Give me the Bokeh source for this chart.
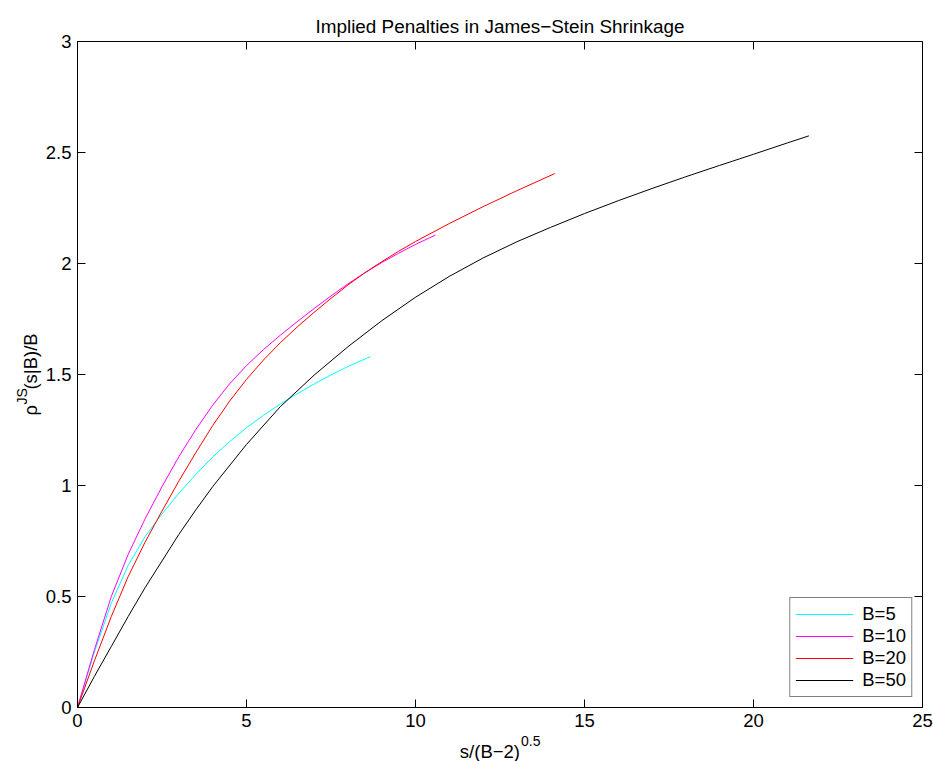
from math import pi
from bokeh.plotting import figure
from bokeh.models import (Range1d, FixedTicker, Label, Legend,
                          LegendItem, NumeralTickFormatter)
from bokeh.embed import file_html
from bokeh.resources import INLINE

# ---- data ----
b5_x = [0, 0.5, 1, 1.5, 2, 2.5, 3, 3.5, 4, 4.5, 5, 5.5, 6, 6.5, 7, 7.5, 8, 8.66]
b5_y = [0, 0.25, 0.47, 0.64, 0.77, 0.872, 0.965, 1.05, 1.128, 1.198, 1.26,
        1.316, 1.367, 1.413, 1.457, 1.498, 1.536, 1.58]

b10_x = [0, 0.5, 1, 1.5, 2, 2.5, 3, 3.5, 4, 4.5, 5, 5.5, 6, 6.5, 7, 7.5, 8,
         8.5, 9, 9.5, 10, 10.59]
b10_y = [0, 0.26, 0.50, 0.69, 0.85, 0.995, 1.13, 1.252, 1.362, 1.458, 1.54,
         1.612, 1.677, 1.738, 1.797, 1.854, 1.908, 1.958, 2.004, 2.046, 2.086,
         2.128]

b20_x = [0, 0.5, 1, 1.5, 2, 2.5, 3, 3.5, 4, 4.5, 5, 5.5, 6, 6.5, 7, 7.5, 8,
         8.5, 9, 9.5, 10, 11, 12, 13, 14.12]
b20_y = [0, 0.21, 0.41, 0.59, 0.745, 0.885, 1.02, 1.148, 1.27, 1.38, 1.478,
         1.565, 1.643, 1.714, 1.78, 1.843, 1.903, 1.958, 2.008, 2.055, 2.099,
         2.18, 2.256, 2.328, 2.405]

b50_x = [0, 0.5, 1, 1.5, 2, 2.5, 3, 3.5, 4, 5, 6, 7, 8, 9, 10, 11, 12, 13,
         14, 15, 16, 17, 18, 19, 20, 21, 21.64]
b50_y = [0, 0.14, 0.275, 0.41, 0.54, 0.66, 0.78, 0.89, 0.995, 1.185, 1.355,
         1.497, 1.625, 1.742, 1.848, 1.942, 2.025, 2.098, 2.163, 2.225, 2.283,
         2.338, 2.391, 2.442, 2.492, 2.543, 2.575]

series_names = ["B=5", "B=10", "B=20", "B=50"]
series_colors = ["#00FFFF", "#FF00FF", "#FF0000", "#000000"]

x_ticks = [0, 5, 10, 15, 20, 25]
y_ticks = [0, 0.5, 1, 1.5, 2, 2.5, 3]

title_text = "Implied Penalties in James\u2212Stein Shrinkage"
xlabel_main = "s/(B\u22122)"
xlabel_sup = "0.5"
ylabel_main = "\u03c1\u00a0\u00a0\u00a0(s|B)/B"
ylabel_sup = "JS"

FONT = "Liberation Sans"
FS = "18.5px"
SUP_FS = "14px"

X0, X1, Y0, Y1 = 0, 25, 0, 3

p = figure(width=933, height=761, x_range=Range1d(X0, X1), y_range=Range1d(Y0, Y1),
           output_backend="svg", toolbar_location=None,
           min_border_left=77, min_border_right=11, min_border_top=41,
           min_border_bottom=54, title=title_text)

p.title.text_font = FONT
p.title.text_font_size = "18.9px"
p.title.text_font_style = "normal"
p.title.align = "center"
p.title.text_color = "black"

p.xgrid.visible = False
p.ygrid.visible = False
p.outline_line_color = "black"
p.outline_line_width = 1
p.outline_line_alpha = 1
p.background_fill_color = "white"
p.border_fill_color = "white"


def style_axis(ax, ticks, fmt):
    ax.ticker = FixedTicker(ticks=ticks)
    ax.formatter = NumeralTickFormatter(format=fmt)
    ax.major_tick_in = 8
    ax.major_tick_out = 0
    ax.minor_tick_in = 0
    ax.minor_tick_out = 0
    ax.axis_line_color = "black"
    ax.major_tick_line_color = "black"
    ax.major_label_text_font = FONT
    ax.major_label_text_color = "black"
    ax.major_label_text_font_size = FS


style_axis(p.xaxis[0], x_ticks, "0")
style_axis(p.yaxis[0], y_ticks, "0.[0]")
p.xaxis[0].major_label_standoff = 6
p.yaxis[0].major_label_standoff = 6

# inward tick marks on the top and right edges (half of each dash is clipped)
p.scatter(x_ticks, [Y1] * len(x_ticks), marker="dash", size=16, angle=pi / 2,
          line_color="black", line_width=1)
p.scatter([X1] * len(y_ticks), y_ticks, marker="dash", size=16, angle=0,
          line_color="black", line_width=1)

xs = [b5_x, b10_x, b20_x, b50_x]
ys = [b5_y, b10_y, b20_y, b50_y]
renderers = []
for x, y, c in zip(xs, ys, series_colors):
    renderers.append(p.line(x, y, line_color=c, line_width=1))

legend = Legend(items=[LegendItem(label=n, renderers=[r])
                       for n, r in zip(series_names, renderers)],
                location="bottom_right")
legend.margin = 10
legend.padding = 5
legend.spacing = 0
legend.glyph_width = 58
legend.glyph_height = 20
legend.label_height = 20
legend.label_standoff = 9
legend.label_text_font = FONT
legend.label_text_font_size = FS
legend.label_text_color = "black"
legend.border_line_color = "black"
legend.border_line_width = 1
legend.background_fill_color = "white"
legend.background_fill_alpha = 1
p.add_layout(legend)

xc = (X0 + X1) / 2
yc = (Y0 + Y1) / 2
# x-axis label with superscript (side panel -> not clipped)
p.add_layout(Label(x=xc, y=Y0, x_offset=20, y_offset=-44, text=xlabel_main,
                   text_align="right", text_baseline="alphabetic",
                   text_font=FONT, text_font_size=FS, text_color="black"), "below")
p.add_layout(Label(x=xc, y=Y0, x_offset=21, y_offset=-33, text=xlabel_sup,
                   text_align="left", text_baseline="alphabetic",
                   text_font=FONT, text_font_size=SUP_FS, text_color="black"), "below")
# y-axis label (rotated) with superscript
p.add_layout(Label(x=X0, y=yc, x_offset=-47, y_offset=-41, text=ylabel_main,
                   angle=pi / 2, text_align="left", text_baseline="alphabetic",
                   text_font=FONT, text_font_size=FS, text_color="black"), "left")
p.add_layout(Label(x=X0, y=yc, x_offset=-56, y_offset=-30, text=ylabel_sup,
                   angle=pi / 2, text_align="left", text_baseline="alphabetic",
                   text_font=FONT, text_font_size=SUP_FS, text_color="black"), "left")

open("out.html", "w").write(file_html(p, INLINE))
